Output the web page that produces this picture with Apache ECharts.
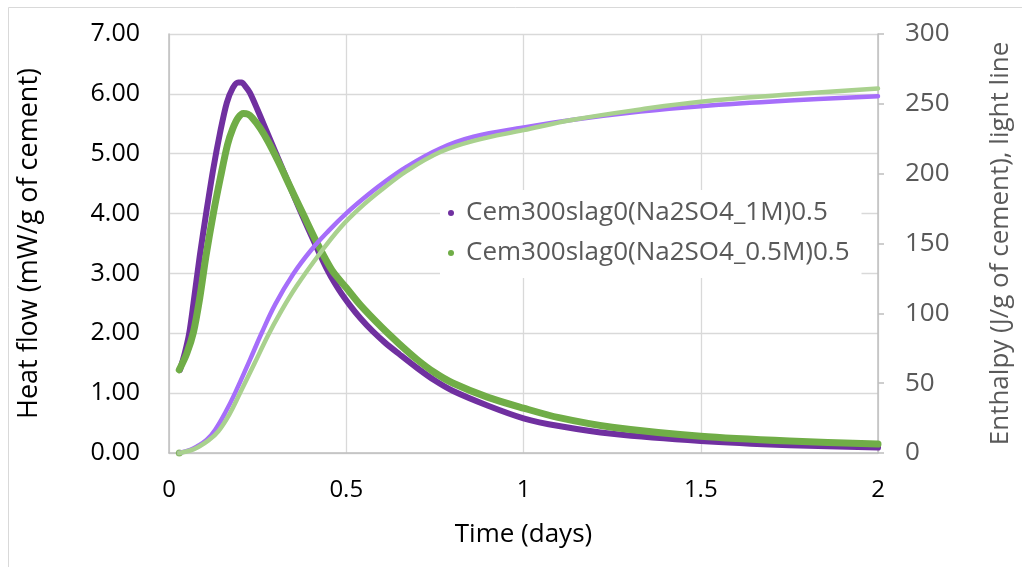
<!DOCTYPE html>
<html>
<head>
<meta charset="utf-8">
<script src="https://cdn.jsdelivr.net/npm/echarts@6/dist/echarts.min.js"></script>
<style>
html,body{margin:0;padding:0;background:#fff;}
#chart{width:1022px;height:567px;}
</style>
</head>
<body>
<div id="chart"></div>
<script>
// ---- data ----
const seriesNames = ['Cem300slag0(Na2SO4_1M)0.5', 'Cem300slag0(Na2SO4_0.5M)0.5'];
const xTickLabels = ['0', '0.5', '1', '1.5', '2'];

// Heat flow, 1M (dark purple)
const heatDays1M = [0.031, 0.045, 0.057, 0.069, 0.087, 0.106, 0.125, 0.144, 0.163, 0.180, 0.195, 0.205, 0.215, 0.228, 0.25, 0.275, 0.3, 0.34, 0.37, 0.41, 0.45, 0.48, 0.51, 0.54, 0.575, 0.61, 0.65, 0.7, 0.75, 0.8, 0.9, 1.0, 1.1, 1.25, 1.5, 1.75, 2.0];
const heatFlow1M = [1.39, 1.68, 2.0, 2.5, 3.3, 4.05, 4.75, 5.35, 5.85, 6.1, 6.19, 6.19, 6.13, 6.02, 5.73, 5.38, 5.03, 4.47, 4.05, 3.52, 3.02, 2.72, 2.47, 2.25, 2.03, 1.84, 1.65, 1.42, 1.21, 1.04, 0.79, 0.58, 0.45, 0.32, 0.2, 0.13, 0.09];

// Heat flow, 0.5M (dark green)
const heatDays05M = [0.029, 0.05, 0.069, 0.087, 0.104, 0.125, 0.145, 0.165, 0.18, 0.195, 0.21, 0.222, 0.235, 0.257, 0.28, 0.31, 0.34, 0.38, 0.42, 0.46, 0.5, 0.54, 0.6, 0.65, 0.7, 0.75, 0.8, 0.9, 1.0, 1.1, 1.25, 1.5, 1.75, 2.0];
const heatFlow05M = [1.39, 1.66, 2.02, 2.6, 3.28, 4.0, 4.6, 5.15, 5.42, 5.6, 5.67, 5.66, 5.6, 5.43, 5.2, 4.85, 4.47, 3.97, 3.48, 3.05, 2.76, 2.47, 2.1, 1.82, 1.56, 1.34, 1.17, 0.93, 0.75, 0.59, 0.43, 0.28, 0.2, 0.15];

// Enthalpy, 1M (light purple)
const enthDays1M = [0.029, 0.06, 0.078, 0.106, 0.13, 0.16, 0.186, 0.228, 0.261, 0.3, 0.35, 0.4, 0.45, 0.5, 0.55, 0.6, 0.671, 0.765, 0.859, 1.0, 1.14, 1.33, 1.5, 1.75, 2.0];
const enthalpy1M = [0, 2.2, 4.5, 9.3, 16.5, 29.5, 42.7, 66.5, 85.7, 106.6, 128, 145, 159, 171.5, 182.5, 192.5, 205, 218, 226.4, 233, 238.6, 244.5, 248.3, 252.3, 255.5];

// Enthalpy, 0.5M (light green)
const enthDays05M = [0.029, 0.06, 0.084, 0.113, 0.139, 0.17, 0.2, 0.24, 0.28, 0.313, 0.36, 0.426, 0.482, 0.539, 0.6, 0.671, 0.765, 0.859, 1.0, 1.14, 1.33, 1.5, 1.75, 2.0];
const enthalpy05M = [0, 1.8, 4.5, 9.3, 15.5, 27.5, 42.7, 63.5, 84.5, 100, 119.5, 143, 161, 175.5, 188.5, 202, 215.5, 223.5, 231.2, 238.6, 246, 251.5, 256.6, 261];

// isolated start marker seen at the origin
const startDotDay = [0.029];
const startDotValue = [0];

function zip(xs, ys) { return xs.map((x, i) => [x, ys[i]]); }

const blackFont = 'Open Sans';
const greyFont = 'Open Sans';

const chart = echarts.init(document.getElementById('chart'), null, {renderer: 'canvas'});
chart.setOption({
  backgroundColor: '#ffffff',
  animation: false,
  graphic: [{
    type: 'rect', silent: true, z: -1,
    shape: {x: 8.5, y: 7.5, width: 1040, height: 600},
    style: {fill: 'none', stroke: '#d9d9d9', lineWidth: 1}
  }],
  grid: {left: 169, right: 144, top: 34, bottom: 114, containLabel: false},
  legend: {
    data: seriesNames,
    orient: 'vertical',
    left: 440, top: 190,
    backgroundColor: '#ffffff',
    padding: [8, 12, 10, 8],
    itemWidth: 20, itemHeight: 6, itemGap: 10,
    icon: 'circle',
    textStyle: {fontSize: 26, color: '#595959', fontFamily: greyFont, lineHeight: 30}
  },
  xAxis: {
    type: 'value', min: 0, max: 2, interval: 0.5,
    name: 'Time (days)', nameLocation: 'middle', nameGap: 69,
    nameTextStyle: {fontSize: 26, color: '#000', fontFamily: blackFont},
    axisLine: {show: true, lineStyle: {color: '#bfbfbf', width: 1.5}},
    axisTick: {show: false},
    axisLabel: {margin: 25, fontSize: 24, color: '#000', fontFamily: blackFont,
      formatter: v => xTickLabels[Math.round(v / 0.5)]},
    splitLine: {show: true, lineStyle: {color: '#d9d9d9', width: 1.3}}
  },
  yAxis: [{
    type: 'value', min: 0, max: 7, interval: 1, position: 'left',
    name: 'Heat flow (mW/g of cement)', nameLocation: 'middle', nameRotate: 90, nameGap: 126,
    nameTextStyle: {fontSize: 27, color: '#000', fontFamily: blackFont},
    axisLine: {show: true, lineStyle: {color: '#bfbfbf', width: 1.5}},
    axisTick: {show: false},
    axisLabel: {margin: 29, fontSize: 25, color: '#000', fontFamily: blackFont,
      formatter: v => v.toFixed(2)},
    splitLine: {show: true, lineStyle: {color: '#d9d9d9', width: 1.3}}
  }, {
    type: 'value', min: 0, max: 300, interval: 50, position: 'right',
    name: 'Enthalpy (J/g of cement), light line', nameLocation: 'middle', nameRotate: 90, nameGap: 110,
    nameTextStyle: {fontSize: 26, color: '#595959', fontFamily: greyFont},
    axisLine: {show: true, lineStyle: {color: '#bfbfbf', width: 1.5}},
    axisTick: {show: true, inside: false, length: 6, lineStyle: {color: '#bfbfbf', width: 1.5}},
    axisLabel: {margin: 27, fontSize: 26, color: '#595959', fontFamily: greyFont},
    splitLine: {show: false}
  }],
  series: [{
    name: seriesNames[0], type: 'line', yAxisIndex: 0,
    data: zip(heatDays1M, heatFlow1M),
    smooth: 0.3, showSymbol: false, symbol: 'circle',
    lineStyle: {color: '#7030a0', width: 6, cap: 'round', join: 'round'},
    itemStyle: {color: '#7030a0'}
  }, {
    name: seriesNames[1], type: 'line', yAxisIndex: 0,
    data: zip(heatDays05M, heatFlow05M),
    smooth: 0.3, showSymbol: false, symbol: 'circle',
    lineStyle: {color: '#70ad47', width: 7, cap: 'round', join: 'round'},
    itemStyle: {color: '#70ad47'}
  }, {
    name: 'enthalpy1M', type: 'line', yAxisIndex: 1,
    data: zip(enthDays1M, enthalpy1M),
    smooth: 0.4, showSymbol: false,
    lineStyle: {color: '#a66efa', width: 4.5, cap: 'round', join: 'round'},
    itemStyle: {color: '#a66efa'}
  }, {
    name: 'enthalpy05M', type: 'line', yAxisIndex: 1,
    data: zip(enthDays05M, enthalpy05M),
    smooth: 0.4, showSymbol: false,
    lineStyle: {color: '#a9d18e', width: 4.5, cap: 'round', join: 'round'},
    itemStyle: {color: '#a9d18e'}
  }, {
    name: 'startDot', type: 'scatter', yAxisIndex: 0,
    data: zip(startDotDay, startDotValue),
    symbolSize: 7, itemStyle: {color: '#70ad47'}, z: 1
  }]
});
</script>
</body>
</html>
